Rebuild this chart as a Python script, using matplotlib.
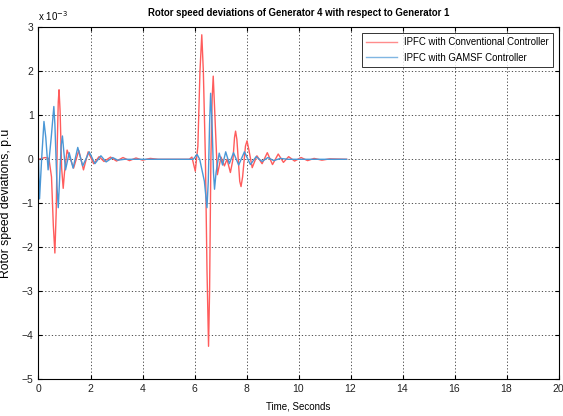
import matplotlib.pyplot as plt

# ---- Data (rotor speed deviation, units of 1e-3 p.u) ----
t_conv = [0, 0.25, 0.4, 0.5, 0.57, 0.63, 0.68, 0.72, 0.76, 0.79, 0.83, 0.89, 0.95, 1.0,
          1.1, 1.23, 1.35, 1.55, 1.73, 1.91, 2.12, 2.33, 2.52, 2.77, 3.0, 3.25, 3.5,
          3.75, 4.0, 4.3, 4.6, 5.8, 5.9, 6.03, 6.13, 6.21, 6.28, 6.34, 6.42, 6.48,
          6.54, 6.58, 6.63, 6.68, 6.72, 6.77, 6.88, 7.02, 7.15, 7.25, 7.38, 7.48,
          7.54, 7.58, 7.63, 7.74, 7.79, 7.85, 7.96, 8.02, 8.08, 8.22, 8.4, 8.6, 8.8,
          9.0, 9.22, 9.42, 9.62, 9.85, 10.1, 10.35, 10.6, 10.9, 11.2, 11.85]
v_conv = [0, 0.04, 0.02, -0.4, -1.5, -2.13, -1.2, 0.3, 1.3, 1.58, 1.1, -0.2, -0.66, -0.3,
          0.21, 0.0, -0.2, 0.2, -0.24, 0.17, -0.1, 0.06, -0.05, 0.05, -0.04, 0.04, -0.03,
          0.03, -0.02, 0.02, 0, 0, 0.05, -0.27, 0.3, 2.0, 2.83, 2.0, 0, -2.5,
          -4.25, -3.0, 0, 1.4, 1.89, 1.2, -0.35, 0.05, -0.15, 0.0, -0.3, 0.0,
          0.5, 0.64, 0.45, -0.5, -0.62, -0.4, 0.3, 0.42, 0.25, -0.19, 0.08, -0.1, 0.15,
          -0.12, 0.12, -0.07, 0.06, -0.04, 0.04, -0.03, 0.02, -0.02, 0.01, 0]

t_gamsf = [0, 0.04, 0.12, 0.21, 0.28, 0.37, 0.49, 0.59, 0.63, 0.71, 0.76, 0.8, 0.87, 0.92,
           0.97, 1.04, 1.18, 1.33, 1.51, 1.7, 1.95, 2.17, 2.4, 2.6, 2.85, 3.05, 3.3,
           5.95, 6.1, 6.2, 6.38, 6.48, 6.53, 6.58, 6.62, 6.67, 6.73, 6.77, 6.83, 6.95,
           7.08, 7.2, 7.34, 7.5, 7.7, 7.92, 8.15, 8.37, 8.6, 8.82, 9.05, 9.3, 9.6, 11.85]
v_gamsf = [0, -0.9, 0, 0.86, 0.5, -0.24, 0.5, 1.2, 0.8, -0.6, -1.1, -0.6, 0.3, 0.53,
           0.2, -0.24, 0.15, -0.2, 0.27, -0.15, 0.17, -0.1, 0.08, -0.06, 0.04, -0.02, 0,
           0, 0.11, 0, -0.5, -1.1, -0.5, 0.8, 1.5, 0.9, -0.3, -0.68, -0.3, 0.14,
           -0.13, 0.17, -0.1, 0.15, -0.13, 0.17, -0.12, 0.06, -0.05, 0.04, -0.03, 0.02, 0, 0]

X_TICKS = list(range(0, 21, 2))
Y_TICKS = list(range(-5, 4))

plt.rcParams['font.family'] = ['Liberation Sans', 'DejaVu Sans']

fig = plt.figure(figsize=(5.63, 4.16), dpi=100)
ax = fig.add_axes([38.5 / 563, 1 - 379.3 / 416, (558.5 - 38.5) / 563, (379.3 - 27.3) / 416])

ax.plot(t_conv, v_conv, color='#ff5c5c', lw=1.0, label='IPFC with Conventional Controller')
ax.plot(t_gamsf, v_gamsf, color='#4a97d6', lw=1.0, label='IPFC with GAMSF Controller')

ax.set_xlim(0, 20)
ax.set_ylim(-5, 3)
ax.set_xticks(X_TICKS)
ax.set_yticks(Y_TICKS)
ax.tick_params(direction='in', length=3, labelsize=7.5, top=True, right=True,
               labelcolor='#222222')
ax.grid(True, color='black', linestyle=(0, (1.5, 2.5)), linewidth=0.6, alpha=0.8)
for s in ax.spines.values():
    s.set_linewidth(0.8)

ax.set_title('Rotor speed deviations of Generator 4 with respect to Generator 1',
             fontsize=6.9, fontweight='bold', pad=8)
ax.set_xlabel('Time, Seconds', fontsize=7, labelpad=5)
ax.set_ylabel('Rotor speed deviations, p.u', fontsize=8.8, labelpad=7)
ax.text(0.0, 1.012, r'x 10$^{-3}$', transform=ax.transAxes, fontsize=7, ha='left', va='bottom')

leg = ax.legend(loc='upper right', fontsize=6.9, frameon=True, fancybox=False,
                edgecolor='black', borderaxespad=0.55, handlelength=3.2,
                borderpad=0.45, labelspacing=0.6)
leg.get_frame().set_linewidth(0.7)
for line in leg.get_lines():
    line.set_alpha(0.7)

fig.savefig('out.png', dpi=100)
